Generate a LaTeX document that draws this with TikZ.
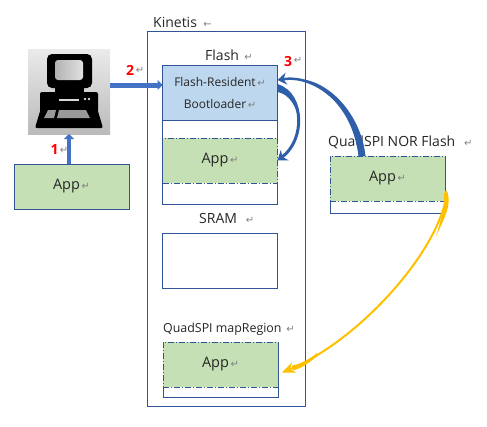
\documentclass[tikz,border=0pt]{standalone}
\usepackage{fontspec}
\setmainfont{Open Sans}
\newfontfamily\markfont{DejaVu Sans}
\usetikzlibrary{arrows.meta}
\definecolor{boxblue}{HTML}{2F5597}
\definecolor{arrowblue}{HTML}{4472C4}
\definecolor{darkarrow}{HTML}{2F5FA8}
\definecolor{bootfill}{HTML}{BDD7EE}
\definecolor{appfill}{HTML}{C5E0B4}
\definecolor{amber}{HTML}{FFC000}
\definecolor{inktext}{HTML}{262626}
\newcommand{\retmark}{{\markfont\fontsize{10}{10}\selectfont\color{gray}\,↵}}
\tikzset{
    membox/.style={draw=boxblue, line width=1pt, fill=white, outer sep=0pt, inner sep=0pt, minimum width=115pt, text=inktext},
    appbox/.style={membox, fill=appfill, draw=boxblue, dash pattern=on 6pt off 2pt on 1pt off 2pt, font=\fontsize{14.5}{16}\selectfont},
    title/.style={anchor=west, inner sep=0pt, text=inktext, font=\fontsize{14}{16}\selectfont},
    step num/.style={inner sep=0pt, text=red, font=\fontsize{14}{16}\selectfont\bfseries}
}
\begin{document}
\begin{tikzpicture}[x=1pt, y=-1pt]
        \useasboundingbox (0, 0) rectangle (487, 426);

        % Blocks
        \node[membox, minimum width=158pt, minimum height=375pt] (kinetis) at (226, 218.5) {};
        \node[title] (kinetislabel) at (153, 22) {Kinetis{\markfont\fontsize{10}{10}\selectfont\color{gray}\ \ ←}};

        \node[title] (flashlabel) at (205, 55) {Flash\ \retmark};
        \node[membox, minimum height=139pt] (flashbox) at (220, 134.5) {};
        \node[membox, fill=bootfill, minimum height=55pt, align=center, font=\fontsize{12}{14}\selectfont] (bootbox) at (220, 92.5) {Flash-Resident\retmark\\[8pt]Bootloader\retmark};
        \node[appbox, minimum height=45pt] (flashapp) at (220, 160.5) {App\retmark};

        \node[title] (sramlabel) at (199, 218) {SRAM\ \ \retmark};
        \node[membox, minimum height=55pt] (srambox) at (220, 260.5) {};

        \node[title, font=\fontsize{12.4}{15}\selectfont] (maplabel) at (163, 329) {QuadSPI mapRegion\ \retmark};
        \node[membox, minimum height=55pt] (mapbox) at (220.5, 369.5) {};
        \node[appbox, minimum height=45pt] (mapapp) at (220.5, 364.5) {App\retmark};

        \node[membox, fill=appfill, minimum height=45pt, font=\fontsize{14.5}{16}\selectfont] (hostapp) at (71.5, 186.5) {App\retmark};

        \node[title] (qspilabel) at (328, 142) {QuadSPI NOR Flash\ \ \retmark};
        \node[membox, minimum height=57pt] (qspibox) at (387.5, 184.5) {};
        \node[appbox, minimum height=45pt] (qspiapp) at (387.5, 178.5) {App\retmark};

        % Computer
        \node[minimum width=82pt, minimum height=85pt, inner sep=0pt, outer sep=0pt, top color=black!8, bottom color=black!27] (pc) at (69, 91.5) {};
        \fill[black, rounded corners=5pt] (47, 54) rectangle (92, 88);
        \fill[black] (55, 86) rectangle (84, 93);
        \shade[left color=black!30, right color=black!12, rounded corners=3pt] (55, 60) rectangle (83, 80);
        \fill[black, rounded corners=2pt] (40, 92) rectangle (98, 112);
        \fill[black, rounded corners=2pt] (41, 108) -- (97, 108) -- (103, 128) -- (35, 128) -- cycle;
        \fill[black!15] (59, 99) rectangle (79, 101);
        \fill[black!15] (85, 99) circle (1.3pt) (89, 99) circle (1.3pt);
        \fill[black!40] (48, 110) -- (56, 110) -- (54, 118) -- (44, 118) -- cycle;
        \fill[black!40] (59, 110) -- (86, 110) -- (90, 118) -- (57, 118) -- cycle;

        % Arrows
        \draw[line width=4pt, arrowblue, -{Triangle[width=10pt, length=5pt]}] (hostapp.north -| pc.south) -- (pc.south);
        \draw[line width=5pt, arrowblue, -{Triangle[width=10pt, length=5pt]}] ([yshift=6.5pt]pc.east) -- ([yshift=7.5pt]bootbox.west);

        \coordinate (qtail) at ([xshift=-25.5pt]qspiapp.north);
        \draw[line width=2.5pt, darkarrow, -{Stealth[width=12pt, length=9pt]}] (qtail) .. controls (357, 110) and (318, 74) .. ([yshift=12.5pt]bootbox.east);
        \fill[darkarrow] ([xshift=3.5pt]qtail) .. controls (361, 114) and (328, 79) .. (297, 79) .. controls (326, 85) and (353, 112) .. ([xshift=-3.5pt]qtail) -- cycle;

        \draw[line width=3pt, darkarrow, -{Stealth[width=13pt, length=9pt]}] ([yshift=4.5pt]bootbox.east) .. controls (305, 95) and (305, 140) .. (flashapp.east);
        \fill[darkarrow] ([yshift=8.5pt]bootbox.east) .. controls (293, 89) and (300, 104) .. (299, 119) .. controls (296, 106) and (289, 94) .. ([yshift=0.5pt]bootbox.east) -- cycle;

        \coordinate (ytail) at ([shift={(2pt, -14pt)}]qspiapp.east);
        \draw[line width=2pt, amber, -{Stealth[width=11pt, length=13pt]}] (ytail) .. controls (440, 250) and (360, 340) .. ([shift={(4pt, -8pt)}]mapapp.east);
        \fill[amber] (446, 190) .. controls (452, 200) and (448, 212) .. (436, 236) .. controls (441, 220) and (445, 205) .. (444, 194) -- cycle;
        \fill[amber] (317, 353) .. controls (309, 360) and (301, 364) .. (292, 365.5) -- (293, 370.5) .. controls (303, 368) and (311, 361) .. (318, 355.5) -- cycle;

        % Step numbers
        \node[step num] (stepone) at (54.5, 149) {1};
        \node[anchor=west, inner sep=0pt] (onemark) at (58, 150) {\retmark};
        \node[step num] (steptwo) at (130, 70) {2};
        \node[anchor=west, inner sep=0pt] (twomark) at (134, 70) {\retmark};
        \node[step num] (stepthree) at (288, 61) {3};
        \node[anchor=west, inner sep=0pt] (threemark) at (292, 60) {\retmark};
    \end{tikzpicture}
\end{document}
